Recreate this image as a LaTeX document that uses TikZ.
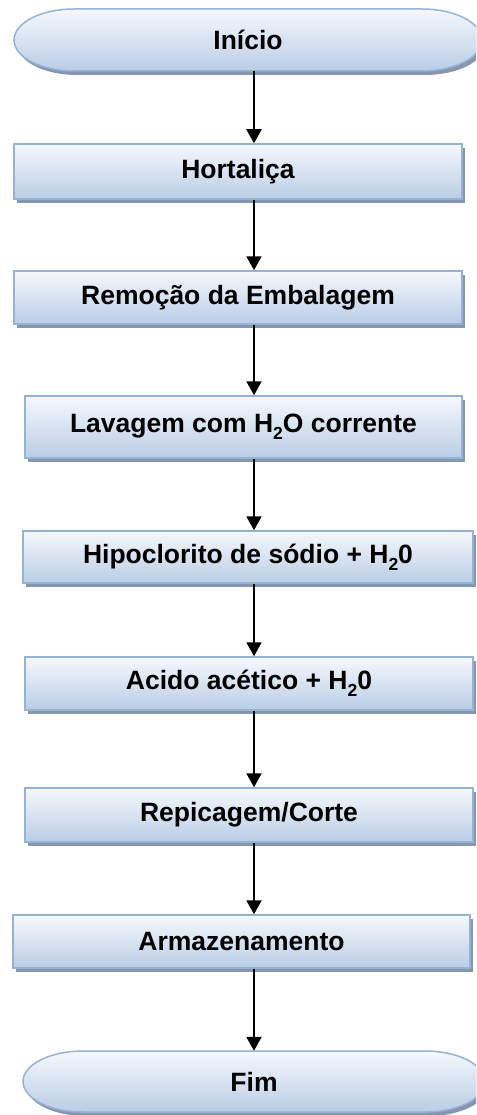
\documentclass[tikz,border=0pt]{standalone}
\usepackage{fontspec}
\setmainfont{Liberation Sans}
\usetikzlibrary{arrows.meta,shadows}
\definecolor{bordercol}{RGB}{149,179,215}
\definecolor{topcol}{RGB}{246,248,252}
\definecolor{botcol}{RGB}{185,205,229}
\definecolor{shadcol}{RGB}{135,150,172}
\newcommand{\subtwo}{\raisebox{-0.28em}{\fontsize{17.5}{17.5}\selectfont 2}}
\begin{document}
\begin{tikzpicture}[x=1pt,y=1pt,
  txt/.style={font=\fontsize{26.5}{30}\selectfont\bfseries, inner sep=0pt, text=black},
  box/.style={txt, rectangle, draw=bordercol, line width=1.5pt, top color=topcol, bottom color=botcol,
     drop shadow={shadow xshift=3pt, shadow yshift=-4pt, fill=shadcol, opacity=1}},
  termfill/.style={draw=bordercol, line width=1.5pt, top color=topcol, bottom color=botcol},
  termshadow/.style={fill=shadcol},
  arr/.style={line width=2pt, -{Triangle[width=15pt,length=14pt]}}]
\useasboundingbox (0,0) rectangle (476,-1115);
\clip (0,0) rectangle (476,-1115);
% terminator Inicio
\fill[termshadow] (77,-13) -- (425,-13) arc[start angle=90,end angle=-90,x radius=60,y radius=31] -- (77,-75) arc[start angle=-90,end angle=-270,x radius=60,y radius=31] -- cycle;
\path[termfill] (74,-9) -- (422,-9) arc[start angle=90,end angle=-90,x radius=60,y radius=31] -- (74,-71) arc[start angle=-90,end angle=-270,x radius=60,y radius=31] -- cycle;
\node[txt, minimum width=468pt, minimum height=62pt] (inicio) at (248,-40) {Início};
% terminator Fim
\fill[termshadow] (86,-1055) -- (428,-1055) arc[start angle=90,end angle=-90,x radius=60,y radius=30.5] -- (86,-1116) arc[start angle=-90,end angle=-270,x radius=60,y radius=30.5] -- cycle;
\path[termfill] (83,-1051) -- (425,-1051) arc[start angle=90,end angle=-90,x radius=60,y radius=30.5] -- (83,-1112) arc[start angle=-90,end angle=-270,x radius=60,y radius=30.5] -- cycle;
\node[txt, minimum width=462pt, minimum height=61pt] (fim) at (254,-1081.5) {Fim};
% process boxes
\node[box, minimum width=448pt, minimum height=55pt] (hort) at (238,-171.5) {Hortaliça};
\node[box, minimum width=448pt, minimum height=53pt] (remo) at (238,-297.5) {Remoção da Embalagem};
\node[box, minimum width=437pt, minimum height=62pt] (lav) at (243.5,-427) {Lavagem com H\subtwo O corrente};
\node[box, minimum width=450pt, minimum height=52pt] (hipo) at (248,-557) {Hipoclorito de sódio + H\subtwo 0};
\node[box, minimum width=448pt, minimum height=53pt] (acido) at (249,-683.5) {Acido acético + H\subtwo 0};
\node[box, minimum width=448pt, minimum height=54pt] (repi) at (249,-815) {Repicagem/Corte};
\node[box, minimum width=457pt, minimum height=53pt] (arma) at (241.5,-941.5) {Armazenamento};
% arrows
\coordinate (ax) at (254,0);
\draw[arr] (inicio.south -| ax) -- (hort.north -| ax);
\draw[arr] (hort.south -| ax) -- (remo.north -| ax);
\draw[arr] (remo.south -| ax) -- (lav.north -| ax);
\draw[arr] (lav.south -| ax) -- (hipo.north -| ax);
\draw[arr] (hipo.south -| ax) -- (acido.north -| ax);
\draw[arr] (acido.south -| ax) -- (repi.north -| ax);
\draw[arr] (repi.south -| ax) -- (arma.north -| ax);
\draw[arr] (arma.south -| ax) -- (fim.north -| ax);
\end{tikzpicture}
\end{document}
